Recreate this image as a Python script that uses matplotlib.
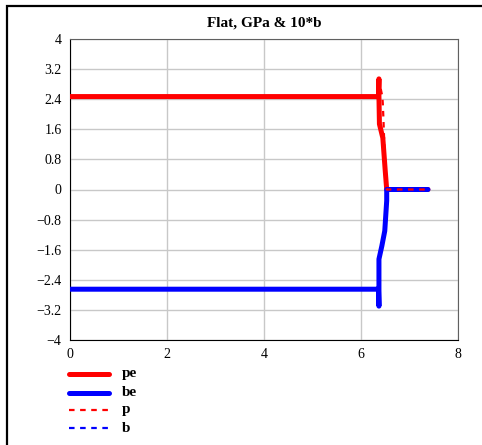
import matplotlib.pyplot as plt
from matplotlib.lines import Line2D
from matplotlib.patches import Rectangle

plt.rcParams['font.family'] = ['Liberation Serif', 'DejaVu Serif']

# data
pe_x = [0, 6.36, 6.37, 6.37, 6.38, 6.45, 6.50, 6.53, 6.53, 7.38]
pe_y = [2.47, 2.47, 2.94, 2.47, 1.74, 1.37, 0.49, 0.0, 0.0, 0.0]
be_x = [0, 6.36, 6.37, 6.37, 6.37, 6.43, 6.49, 6.53, 6.53, 7.38]
be_y = [-2.65, -2.65, -3.10, -2.65, -1.85, -1.50, -1.10, -0.30, 0.0, 0.0]
p_x = [0, 6.36, 6.37, 6.44, 6.45, 6.46, 6.50, 6.53, 6.53, 7.38]
p_y = [2.47, 2.47, 2.90, 2.47, 2.27, 1.95, 0.49, 0.0, 0.0, 0.0]
b_x = [0, 6.36, 6.37, 6.37, 6.43, 6.49, 6.53, 6.53, 7.38]
b_y = [-2.65, -2.65, -3.05, -1.85, -1.50, -1.10, -0.30, 0.0, 0.0]

x_ticks = [0, 2, 4, 6, 8]
y_ticks = [-4, -3.2, -2.4, -1.6, -0.8, 0, 0.8, 1.6, 2.4, 3.2, 4]
names = ['pe', 'be', 'p', 'b']

fig = plt.figure(figsize=(4.82, 4.45), dpi=100)
ax = fig.add_axes([70 / 482, 1 - 340 / 445, 388 / 482, 301 / 445])

ax.plot(pe_x, pe_y, color='red', lw=3.6, solid_capstyle='round', zorder=3)
ax.plot(be_x, be_y, color='blue', lw=3.6, solid_capstyle='round', zorder=4)
ax.plot(b_x, b_y, color='blue', lw=1.6, ls=(0, (2.5, 2.5)), zorder=5)
ax.plot(p_x, p_y, color='red', lw=1.6, ls=(0, (2.5, 2.5)), zorder=6)

ax.set_xlim(0, 8)
ax.set_ylim(-4, 4)
ax.set_xticks(x_ticks)
ax.set_yticks(y_ticks)
ax.set_xticklabels([str(v) for v in x_ticks])
ax.set_yticklabels([('%g' % v).replace('-', '\u2212') for v in y_ticks])
ax.tick_params(length=0, labelsize=10, pad=6)
ax.grid(True, color='#c8c8c8', lw=1)
ax.set_axisbelow(True)
for s in ['top', 'right']:
    ax.spines[s].set_color('#606060')
for s in ['left', 'bottom']:
    ax.spines[s].set_color('black')

ax.set_title('Flat, GPa & 10*b', fontsize=11, fontweight='bold', pad=9)

# legend below the plot
styles = [('red', 3.6, '-'), ('blue', 3.6, '-'), ('red', 1.6, (0, (2.5, 2.5))), ('blue', 1.6, (0, (2.5, 2.5)))]
rows = [374, 393, 410, 428]
for name, (c, lw, ls), yy in zip(names, styles, rows):
    fy = 1 - yy / 445
    fig.add_artist(Line2D([69 / 482, 109 / 482], [fy, fy], color=c, lw=lw, ls=ls,
                          solid_capstyle='round'))
    fig.text(122 / 482, fy, name, fontsize=11, fontweight='bold', va='center')

# outer frame
fig.add_artist(Rectangle((7 / 482, -0.05), 1.2, 1 - 6 / 445 + 0.05, fill=False,
                         ec='black', lw=1.6, transform=fig.transFigure))

fig.savefig('out.png', dpi=100)
